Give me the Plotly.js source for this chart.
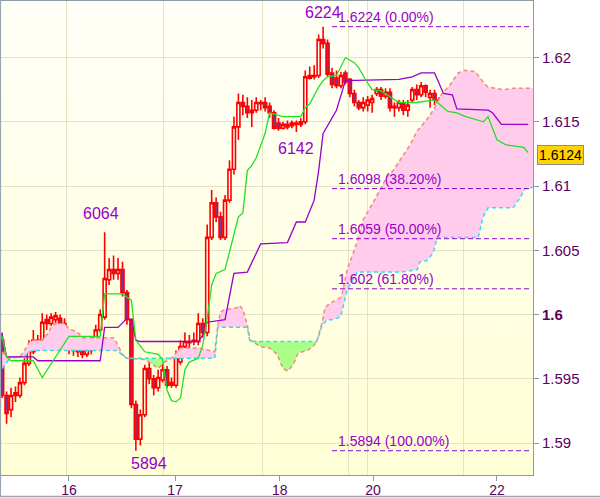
<!DOCTYPE html>
<html><head><meta charset="utf-8">
<script src="https://cdn.plot.ly/plotly-3.0.1.min.js"></script>
<style>
html,body{margin:0;padding:0;background:#fff;}
#wrap{position:relative;width:600px;height:498px;overflow:hidden;}
#bg{position:absolute;left:1px;top:1px;width:532px;height:474px;background:linear-gradient(to bottom,#fffff8,#ffffd6);}
#chart{position:absolute;left:0;top:0;width:600px;height:498px;}
</style></head>
<body><div id="wrap"><div id="bg"></div><div id="chart"></div></div>
<script>
// ---- hourly bars (x = bar index) ----
const openP = [
1.5980,1.5937,1.5926,1.5937,1.5937,1.5947,1.5962,1.5971,1.5976,1.5976,
1.5996,1.5993,1.5996,1.5997,1.5993,1.5983,1.5972,1.5976,1.5979,1.5969,
1.5972,1.5975,1.5988,1.5998,1.6027,1.6035,1.6032,1.6035,1.6017,1.5996,
1.5930,1.5903,1.5922,1.5958,1.5950,1.5943,1.5949,1.5957,1.5945,1.5945,
1.5963,1.5975,1.5978,1.5979,1.5979,1.5993,1.5986,1.6060,1.6087,1.6076,
1.6060,1.6089,1.6113,1.6146,1.6165,1.6162,1.6157,1.6159,1.6164,1.6165,
1.6162,1.6157,1.6149,1.6145,1.6146,1.6147,1.6148,1.6148,1.6150,1.6184,
1.6185,1.6186,1.6214,1.6211,1.6188,1.6184,1.6178,1.6188,1.6183,1.6172,
1.6165,1.6161,1.6163,1.6165,1.6172,1.6175,1.6170,1.6173,1.6161,1.6161,
1.6164,1.6159,1.6167,1.6175,1.6171,1.6178,1.6169,1.6172,1.6167,1.6151,
1.6141,1.6158,1.6160,1.6148,1.6148,1.6151,1.6145,1.6145,1.6147,1.6145,
1.6143,1.6132,1.6129,1.6130,1.6120,1.6122,1.6126,1.6126,1.6130];
const highP = [
1.5986,1.5940,1.5943,1.5944,1.5951,1.5966,1.5980,1.5988,1.5984,1.6001,
1.6000,1.6001,1.6002,1.6000,1.5997,1.5986,1.5980,1.5979,1.5982,1.5978,
1.5982,1.5992,1.6004,1.6064,1.6044,1.6046,1.6044,1.6041,1.6019,1.5997,
1.5933,1.5926,1.5961,1.5965,1.5953,1.5957,1.5963,1.5960,1.5951,1.5972,
1.5980,1.5986,1.5984,1.5986,1.6001,1.5997,1.6070,1.6097,1.6091,1.6080,
1.6093,1.6120,1.6154,1.6172,1.6171,1.6169,1.6167,1.6169,1.6167,1.6169,
1.6165,1.6159,1.6153,1.6150,1.6151,1.6151,1.6151,1.6153,1.6190,1.6193,
1.6194,1.6218,1.6224,1.6214,1.6192,1.6190,1.6189,1.6190,1.6184,1.6175,
1.6167,1.6169,1.6170,1.6171,1.6177,1.6177,1.6176,1.6176,1.6165,1.6167,
1.6167,1.6167,1.6177,1.6179,1.6181,1.6179,1.6175,1.6175,1.6169,1.6159,
1.6162,1.6163,1.6167,1.6155,1.6153,1.6153,1.6151,1.6150,1.6150,1.6148,
1.6145,1.6136,1.6133,1.6133,1.6125,1.6128,1.6130,1.6130,1.6132];
const lowP = [
1.5935,1.5915,1.5920,1.5932,1.5935,1.5945,1.5960,1.5969,1.5974,1.5975,
1.5988,1.5991,1.5988,1.5990,1.5976,1.5969,1.5968,1.5967,1.5966,1.5967,
1.5969,1.5972,1.5986,1.5996,1.6023,1.6027,1.6027,1.6014,1.5992,1.5927,
1.5894,1.5898,1.5920,1.5946,1.5937,1.5940,1.5947,1.5943,1.5943,1.5943,
1.5961,1.5971,1.5974,1.5976,1.5976,1.5982,1.5983,1.6058,1.6072,1.6058,
1.6058,1.6087,1.6109,1.6136,1.6155,1.6153,1.6146,1.6157,1.6159,1.6158,
1.6153,1.6144,1.6143,1.6144,1.6144,1.6145,1.6142,1.6146,1.6148,1.6183,
1.6183,1.6184,1.6207,1.6185,1.6176,1.6176,1.6176,1.6179,1.6169,1.6162,
1.6159,1.6158,1.6158,1.6157,1.6170,1.6167,1.6168,1.6158,1.6154,1.6158,
1.6155,1.6154,1.6165,1.6167,1.6169,1.6169,1.6161,1.6163,1.6150,1.6130,
1.6139,1.6151,1.6146,1.6146,1.6146,1.6143,1.6144,1.6144,1.6141,1.6140,
1.6128,1.6127,1.6123,1.6116,1.6119,1.6120,1.6124,1.6123,1.6123];
const closeP = [
1.5937,1.5923,1.5937,1.5939,1.5947,1.5962,1.5972,1.5980,1.5980,1.5994,
1.5993,1.5998,1.5999,1.5993,1.5983,1.5975,1.5976,1.5971,1.5969,1.5974,
1.5979,1.5988,1.6000,1.6028,1.6035,1.6032,1.6035,1.6017,1.5996,1.5930,
1.5903,1.5922,1.5958,1.5950,1.5943,1.5951,1.5957,1.5945,1.5947,1.5967,
1.5975,1.5979,1.5979,1.5980,1.5993,1.5986,1.6060,1.6087,1.6076,1.6060,
1.6089,1.6113,1.6146,1.6165,1.6162,1.6157,1.6159,1.6165,1.6165,1.6161,
1.6157,1.6145,1.6145,1.6148,1.6148,1.6149,1.6149,1.6150,1.6185,1.6186,
1.6186,1.6214,1.6211,1.6187,1.6179,1.6178,1.6186,1.6181,1.6172,1.6165,
1.6161,1.6165,1.6167,1.6168,1.6175,1.6170,1.6173,1.6161,1.6162,1.6165,
1.6159,1.6163,1.6175,1.6171,1.6178,1.6173,1.6172,1.6167,1.6151,1.6141,
1.6159,1.6161,1.6149,1.6149,1.6150,1.6145,1.6148,1.6148,1.6144,1.6142,
1.6130,1.6130,1.6130,1.6123,1.6122,1.6127,1.6128,1.6128,1.6124];

// ---- Tenkan (green) ----
const tenkanX = [0,1,2,7,9,12,15,22,23,27,29,30,31,32,35,36,37,38,39,40,41,42,44,45,46,47,48,50,53,54,55,56,57,59,60,62,63,67,68,69,71,72,73,75,77,79,80,82,83,85,88,89,93,97,99,100,102,104,108,109,110,111,113,117,118];
const tenkanY = [1.5983,1.5967,1.5964,1.5964,1.5951,1.5967,1.5983,1.5983,1.6016,1.6016,
1.6011,1.5980,1.5975,1.5971,1.5969,1.5965,1.5941,1.5933,1.5932,1.5935,
1.5957,1.5963,1.5966,1.5976,1.5997,1.6023,1.6032,1.6035,1.6076,1.6079,
1.6112,1.6116,1.6122,1.6141,1.6157,1.6155,1.6154,1.6154,1.6161,1.6164,
1.6177,1.6182,1.6185,1.6186,1.6200,1.6196,1.6192,1.6180,1.6175,1.6174,
1.6167,1.6165,1.6165,1.6167,1.6161,1.6158,1.6157,1.6154,1.6150,1.6154,
1.6145,1.6136,1.6132,1.6130,1.6126];

// ---- Kijun (purple) ----
const kijunX = [0,1,7,8,22,23,26,28,29,30,31,44,45,46,50,52,55,58,64,66,68,70,71,72,75,77,89,92,94,97,99,101,102,109,110,112,118];
const kijunY = [1.5985,1.5967,1.5967,1.5964,1.5964,1.5990,1.5990,1.5997,1.5996,1.5980,
1.5979,1.5979,1.5984,1.5994,1.5996,1.6032,1.6033,1.6055,1.6056,1.6072,
1.6072,1.6089,1.6112,1.6141,1.6159,1.6182,1.6183,1.6185,1.6188,1.6188,
1.6172,1.6171,1.6160,1.6159,1.6157,1.6148,1.6148];

// ---- Cloud: Senkou span A (salmon) and B (cyan) ----
const cloudX = [0,1,2,4,5,6,7,9,10,11,12,14,15,17,18,25,26,27,28,31,
32,33,35,36.5,38,39,40,44,46.5,47.7,48.4,49,50,52.5,53.3,54,55,55.6,58,60,
61.7,63,64,65.3,66.4,68.4,69.7,70.6,71.3,71.8,72.4,72.9,74.2,75.8,76.2,77.4,79.6,81,83.2,84.8,
86.3,87.7,89.3,91.5,93.1,93.7,95.3,96.7,97.6,98.7,100.5,102.3,103.8,106.1,106.8,107.9,109,112.4,114.6,116.2,
117.3,119.1];
const spanA = [1.5971,1.5967,1.5966,1.5967,1.5972,1.5978,1.5980,1.5980,1.5984,1.5990,
1.5993,1.5993,1.5989,1.5986,1.5982,1.5982,1.5976,1.5969,1.5966,1.5965,
1.5965,1.5963,1.5958,1.5963,1.5966,1.5970,1.5974,1.5974,1.5972,1.5971,
1.5992,1.6002,1.6004,1.6005,1.6007,1.6004,1.5992,1.5980,1.5975,1.5974,
1.5969,1.5958,1.5956,1.5961,1.5970,1.5972,1.5975,1.5979,1.5988,1.5994,
1.6005,1.6007,1.6010,1.6013,1.6015,1.6035,1.6056,1.6074,1.6087,1.6097,
1.6107,1.6112,1.6120,1.6132,1.6143,1.6145,1.6152,1.6159,1.6165,1.6172,
1.6179,1.6188,1.6190,1.6189,1.6186,1.6181,1.6177,1.6175,1.6176,1.6176,
1.6176,1.6176];
const spanB = [1.5958,1.5963,1.5967,1.5967,1.5967,1.5971,1.5972,1.5972,1.5972,1.5972,
1.5972,1.5972,1.5972,1.5972,1.5972,1.5972,1.5972,1.5968,1.5966,1.5966,
1.5966,1.5966,1.5966,1.5966,1.5966,1.5966,1.5966,1.5966,1.5966,1.5966,
1.5990,1.5990,1.5990,1.5990,1.5990,1.5990,1.5990,1.5979,1.5979,1.5979,
1.5979,1.5979,1.5979,1.5979,1.5979,1.5979,1.5979,1.5979,1.5986,1.5992,
1.5994,1.5996,1.5996,1.5998,1.6002,1.6019,1.6033,1.6033,1.6033,1.6033,
1.6033,1.6033,1.6033,1.6034,1.6035,1.6041,1.6042,1.6048,1.6060,1.6060,
1.6060,1.6060,1.6060,1.6060,1.6060,1.6076,1.6083,1.6083,1.6083,1.6091,
1.6098,1.6099];

// ---- Fibonacci retracement ----
const fibLevels = [1.6224, 1.6098, 1.6059, 1.602, 1.5894];
const fibPct = ['0.00', '38.20', '50.00', '61.80', '100.00'];
const fibFromBar = 74, fibToBar = 118.4;

// ---- swing labels ----
const swingBars = [72, 23, 66, 30];
const swingVals = [1.6224, 1.6064, 1.6142, 1.5894];
const swingText = ['6224', '6064', '6142', '5894'];
const swingHigh = [true, true, false, false];

// ---- axes ----
const dayTickPos = [15, 38.8, 62.3, 83.2, 111];
const dayLabels = ['16', '17', '18', '20', '22'];
const gridPos = [14.33, 36.3, 58.5, 77.8, 81.85, 103.6];
const priceTicks = [1.59, 1.595, 1.6, 1.605, 1.61, 1.615, 1.62];
const priceTickText = ['1.59', '1.595', '<b>1.6</b>', '1.605', '1.61', '1.615', '1.62'];
const lastPrice = 1.6124;

const FONT = 'Liberation Sans, Arial, sans-serif';
const PURPLE = '#9900cc';
const maxAB = cloudX.map((_, k) => Math.max(spanA[k], spanB[k]));
const nb = {mode: 'lines', line: {width: 0}, hoverinfo: 'skip', showlegend: false};

const traces = [
  Object.assign({x: cloudX, y: spanB}, nb),
  Object.assign({x: cloudX, y: maxAB, fill: 'tonexty', fillcolor: '#ffcceb'}, nb),
  Object.assign({x: cloudX, y: spanA}, nb),
  Object.assign({x: cloudX, y: maxAB, fill: 'tonexty', fillcolor: '#aaff88'}, nb),
  {x: cloudX, y: spanA, mode: 'lines', line: {color: '#f08a80', width: 1.5, dash: '4px,3px'}, hoverinfo: 'skip'},
  {x: cloudX, y: spanB, mode: 'lines', line: {color: '#33ddee', width: 1.5, dash: '4px,3px'}, hoverinfo: 'skip'},
  {type: 'candlestick', x: openP.map((_, i) => i), open: openP, high: highP, low: lowP, close: closeP,
   increasing: {line: {color: '#ff0000', width: 1.6}, fillcolor: 'rgba(0,0,0,0)'},
   decreasing: {line: {color: '#ff0000', width: 1.6}, fillcolor: '#7f339f'},
   whiskerwidth: 0, hoverinfo: 'skip'},
  {x: kijunX, y: kijunY, mode: 'lines', line: {color: '#9900cc', width: 1.3}, hoverinfo: 'skip'},
  {x: tenkanX, y: tenkanY, mode: 'lines', line: {color: '#22e022', width: 1.3}, hoverinfo: 'skip'}
];
const fx = [], fy = [];
fibLevels.forEach(l => { fx.push(fibFromBar, fibToBar, null); fy.push(l, l, null); });
traces.push({x: fx, y: fy, mode: 'lines', line: {color: '#8800cc', width: 1, dash: '5px,3px'}, connectgaps: false, hoverinfo: 'skip'});

const annotations = [];
fibLevels.forEach((l, k) => annotations.push({
  x: fibFromBar, y: l, text: String(l) + ' (' + fibPct[k] + '%)', showarrow: false,
  xanchor: 'left', yanchor: 'bottom', xshift: 4, yshift: 0,
  font: {family: FONT, size: 14, color: PURPLE}
}));
const swingShift = [[0, 4], [-4, 8], [0, -6], [13, -2]];
swingBars.forEach((b, k) => annotations.push({
  x: b, y: swingVals[k], text: swingText[k], showarrow: false,
  xanchor: 'center', yanchor: swingHigh[k] ? 'bottom' : 'top',
  xshift: swingShift[k][0], yshift: swingShift[k][1],
  font: {family: FONT, size: 16, color: PURPLE}
}));
annotations.push({
  xref: 'paper', x: 1, y: lastPrice, text: String(lastPrice), showarrow: false,
  xanchor: 'left', yanchor: 'middle', xshift: 4, bgcolor: '#ffd200', bordercolor: '#8c8c8c',
  borderwidth: 1, borderpad: 1, font: {family: FONT, size: 14, color: '#000'}
});

const axisColor = '#8c99a6';
const layout = {
  width: 600, height: 498,
  margin: {l: 1, r: 67, t: 1, b: 23, pad: 0},
  paper_bgcolor: 'rgba(0,0,0,0)', plot_bgcolor: 'rgba(0,0,0,0)',
  showlegend: false, boxgap: 0.02,
  xaxis: {
    type: 'linear', range: [-0.25, 119.08], showgrid: false, zeroline: false,
    tickmode: 'array', tickvals: dayTickPos, ticktext: dayLabels,
    ticks: 'outside', ticklen: 5, tickcolor: axisColor, ticklabelstandoff: -3,
    tickfont: {family: FONT, size: 14, color: '#5c005c'},
    showline: true, mirror: true, linecolor: axisColor, linewidth: 1,
    rangeslider: {visible: false}, fixedrange: true,
    minor: {tickmode: 'array', tickvals: gridPos, showgrid: true, gridcolor: '#e3e3c6', gridwidth: 1, ticks: ''}
  },
  yaxis: {
    side: 'right', range: [1.58751, 1.62440], zeroline: false,
    tickmode: 'array', tickvals: priceTicks, ticktext: priceTickText,
    showgrid: true, gridcolor: '#e3e3c6', gridwidth: 1,
    ticks: 'outside', ticklen: 5, tickcolor: axisColor,
    tickfont: {family: FONT, size: 15, color: '#5c005c'},
    showline: true, mirror: true, linecolor: axisColor, linewidth: 1, fixedrange: true
  },
  annotations: annotations,
  shapes: [
    {type: 'line', xref: 'paper', yref: 'paper', x0: -0.002, x1: 1.13, y0: -0.0455, y1: -0.0455, line: {color: '#9aa6b2', width: 1.5}},
    {type: 'line', xref: 'paper', yref: 'paper', x0: -0.0012, x1: -0.0012, y0: -0.0455, y1: 1.003, line: {color: '#9aa6b2', width: 1.5}}
  ]
};
Plotly.newPlot('chart', traces, layout, {displayModeBar: false, staticPlot: true});
</script></body></html>
